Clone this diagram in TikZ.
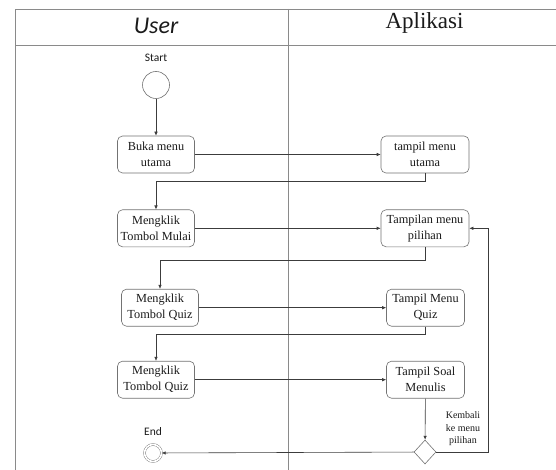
\documentclass[tikz,border=0pt]{standalone}
\usepackage{fontspec}
\setmainfont{Liberation Serif}
\newfontfamily\labelfont{Carlito}
\usepackage{tikz}
\usetikzlibrary{arrows.meta,positioning,shapes.geometric}
\definecolor{laneline}{HTML}{8A8A8A}
\definecolor{boxline}{HTML}{737373}
\definecolor{flowline}{HTML}{3C3C3C}
\definecolor{ink}{HTML}{1A1A1A}
\tikzstyle{lane}     = [draw=laneline,line width=0.9pt]
\tikzstyle{activity} = [shape=rectangle,draw=boxline,line width=0.6pt,rounded corners=5pt,minimum width=77pt,minimum height=37pt,inner sep=1pt,align=center,text=ink,font=\fontsize{12.3}{16}\selectfont]
\tikzstyle{initial}  = [shape=circle,draw=boxline,line width=0.6pt,minimum size=27pt,inner sep=0pt]
\tikzstyle{final}    = [shape=circle,draw=boxline,double=white,double distance=1.6pt,minimum size=17pt,inner sep=0pt]
\tikzstyle{decision} = [shape=diamond,draw=boxline,line width=0.6pt,minimum width=22pt,minimum height=24pt,inner sep=0pt]
\tikzstyle{flow}     = [draw=flowline,line width=0.6pt,-{Latex[length=4pt,width=3.5pt]}]
\tikzstyle{caption}  = [text=ink,inner sep=0pt]

\begin{document}
\begin{tikzpicture}[x=1pt,y=-1pt]
  \useasboundingbox[fill=white] (0,0) rectangle (556,470);

  % Swimlanes
  \draw[lane] (15,470) -- (15,9) -- (556,9);
  \draw[lane] (15,45) -- (556,45);
  \draw[lane] (288,9) -- (288,470);
  \node[caption,font=\labelfont\itshape\fontsize{24}{28}\selectfont] (user) at (156,26) {User};
  \node[caption,font=\fontsize{23}{26}\selectfont] (aplikasi) at (424.5,23) {Aplikasi};

  % Start and end
  \node[caption,font=\labelfont\fontsize{11.5}{13}\selectfont] (startlabel) at (156,58) {Start};
  \node[initial] (start) at (156,85) {};
  \node[caption,font=\labelfont\fontsize{11.5}{13}\selectfont] (endlabel) at (153,432) {End};
  \node[final] (end) at (153,453) {};

  % Actions
  \node[activity] (buka) at (156,154.5) {Buka menu\\utama};
  \node[activity,minimum width=88pt] (tampil) at (425,154.5) {tampil menu\\utama};
  \node[activity] (mulai) at (156,228.3) {Mengklik\\Tombol Mulai};
  \node[activity,minimum width=88pt] (pilihan) at (425,228.3) {Tampilan menu\\pilihan};
  \node[activity] (quiza) at (160,307.7) {Mengklik\\Tombol Quiz};
  \node[activity,minimum width=78pt] (menuquiz) at (425.5,307.7) {Tampil Menu\\Quiz};
  \node[activity] (quizb) at (156,379.7) {Mengklik\\Tombol Quiz};
  \node[activity,minimum width=78pt] (soal) at (425.5,379.7) {Tampil Soal\\Menulis};
  \node[decision] (cek) at (425,452) {};
  \coordinate (back) at (488,452);
  \node[caption,font=\fontsize{10}{12.5}\selectfont,align=center] (kembali) at (463,429) {Kembali\\ke menu\\pilihan};

  % Flows
  \draw[flow] (start) -- (buka);
  \foreach \a/\b in {buka/tampil,mulai/pilihan,quiza/menuquiz,quizb/soal}
    \draw[flow] (\a) -- (\b);
  \foreach \a/\b/\d in {tampil/mulai/8,pilihan/quiza/13,menuquiz/quizb/8}
    \draw[flow] (\a.south) -- ++(0,\d) -| (\b.north);
  \draw[flow] (soal) -- (cek);
  \draw[flow] (cek) -- (end);
  \draw[flow] (cek.east) -- (back) |- (pilihan.east);
\end{tikzpicture}
\end{document}
